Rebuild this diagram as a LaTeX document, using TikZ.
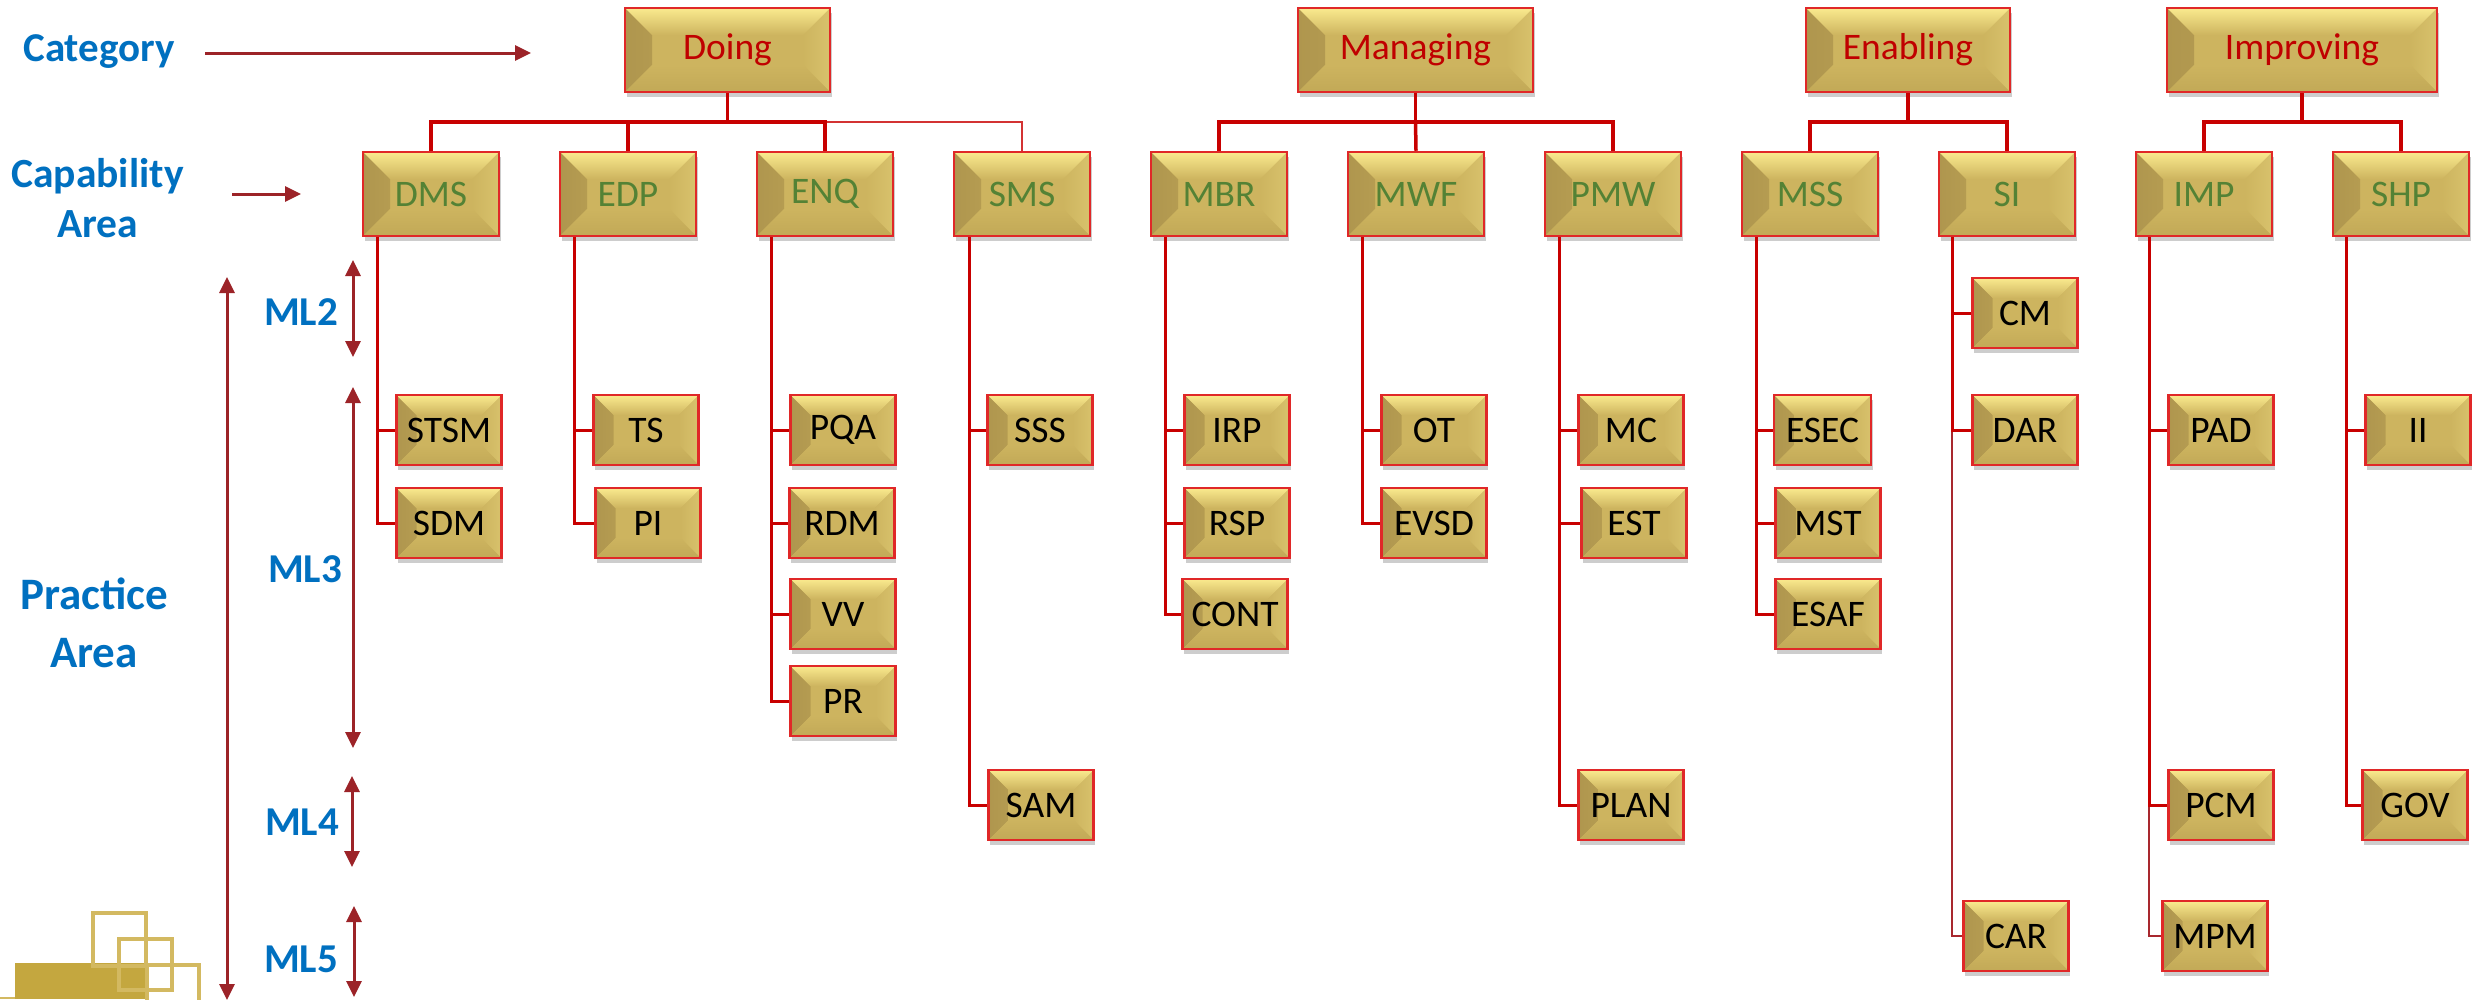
\documentclass[tikz,border=0pt]{standalone}
\usepackage{fontspec}
\setmainfont{Carlito}
\usetikzlibrary{arrows.meta,shadows,calc}
\definecolor{gbase}{HTML}{CDB45F}
\definecolor{ghi}{HTML}{FAEA8E}
\definecolor{gdark}{HTML}{AF964E}
\definecolor{gright}{HTML}{D8C26C}
\definecolor{gbot}{HTML}{C2A957}
\definecolor{bred}{HTML}{E02828}
\definecolor{lred}{HTML}{C80000}
\definecolor{mred}{HTML}{A8282E}
\definecolor{ared}{HTML}{9C2328}
\definecolor{lblue}{HTML}{0070C0}
\definecolor{cgreen}{HTML}{548235}
\definecolor{catred}{HTML}{C00000}
\definecolor{logofill}{HTML}{C4A73F}
\definecolor{logoline}{HTML}{D3B961}
\tikzset{
  bevel/.style={path picture={
    \def\pb{path picture bounding box}
    \shade[left color=gdark, right color=gbase] (\pb.south west) -- (\pb.north west) -- ($(\pb.north west)+(#1,-#1)$) -- ($(\pb.south west)+(#1,#1)$) -- cycle;
    \shade[left color=gbase, right color=gright] (\pb.south east) -- (\pb.north east) -- ($(\pb.north east)+(-#1,-#1)$) -- ($(\pb.south east)+(-#1,#1)$) -- cycle;
    \shade[top color=gbase, bottom color=gbot] (\pb.south west) -- (\pb.south east) -- ($(\pb.south east)+(-#1,#1)$) -- ($(\pb.south west)+(#1,#1)$) -- cycle;
    \shade[top color=ghi, bottom color=gbase] (\pb.north west) -- (\pb.north east) -- ($(\pb.north east)+(-#1,-#1)$) -- ($(\pb.north west)+(#1,-#1)$) -- cycle;
  }},
  boxbase/.style={draw=bred, line width=2.5pt, fill=gbase, inner sep=0pt,
    drop shadow={shadow xshift=1.5pt, shadow yshift=-5pt, opacity=0.28, fill=black!70}},
  catbox/.style={boxbase, bevel=27pt, minimum height=84pt, text=catred, font=\fontsize{37.5}{40}\selectfont},
  capbox/.style={boxbase, bevel=27pt, minimum width=136pt, minimum height=84pt, text=cgreen, font=\fontsize{37.5}{40}\selectfont},
  pbox/.style={boxbase, bevel=20pt, minimum width=105pt, minimum height=70pt, text=black, font=\fontsize{37.5}{40}\selectfont},
  conn/.style={draw=lred, line width=3.5pt},
  thinconn/.style={draw=lred!80, line width=1.6pt},
  pconn/.style={draw=lred, line width=3pt},
  mconn/.style={draw=mred, line width=2.6pt},
  aline/.style={draw=ared, line width=3pt},
  dtip/.style={{Triangle[length=16pt,width=15pt]}-{Triangle[length=16pt,width=15pt]}},
  stip/.style={-{Triangle[length=16pt,width=15pt]}},
  lbl/.style={text=lblue, inner sep=0pt},
}
\begin{document}
\begin{tikzpicture}[x=1pt,y=-1pt]
\useasboundingbox[fill=white] (0,0) rectangle (2483,999);

% logo
\fill[logofill] (15,963) rectangle (149,999);
\draw[logoline, line width=3.5pt] (93,913) rectangle (146,966);
\draw[logoline, line width=3.5pt] (119,939) rectangle (172,990);
\draw[logoline, line width=3.5pt] (147,965) rectangle (199,1012);
\draw[logoline, line width=2pt] (0,998) -- (15,998);

% left labels (base = baseline of the last line)
\node[lbl, anchor=base, font=\bfseries\fontsize{41}{50}\selectfont] (lcat) at (99,61) {Category};
\node[lbl, anchor=base, align=center, font=\bfseries\fontsize{41.5}{50}\selectfont] (lcap) at (97.5,237) {Capability\\Area};
\node[lbl, anchor=base, align=center, font=\bfseries\fontsize{45}{58}\selectfont] (lpa) at (94,667) {Practice\\Area};
\node[lbl, anchor=base, font=\bfseries\fontsize{41}{50}\selectfont] (ml2) at (301,325) {ML2};
\node[lbl, anchor=base, font=\bfseries\fontsize{41}{50}\selectfont] (ml3) at (305,582) {ML3};
\node[lbl, anchor=base, font=\bfseries\fontsize{41}{50}\selectfont] (ml4) at (302,835) {ML4};
\node[lbl, anchor=base, font=\bfseries\fontsize{41}{50}\selectfont] (ml5) at (301,972) {ML5};

% arrows
\coordinate (ca1) at (205,53); \coordinate (ca2) at (531,53);
\coordinate (cb1) at (232,194); \coordinate (cb2) at (301,194);
\coordinate (pa1) at (227,277); \coordinate (pa2) at (227,1000);
\coordinate (m2a) at (353,260); \coordinate (m2b) at (353,357);
\coordinate (m3a) at (353,387); \coordinate (m3b) at (353,748);
\coordinate (m4a) at (352,776); \coordinate (m4b) at (352,867);
\coordinate (m5a) at (354,906); \coordinate (m5b) at (354,997);
\draw[aline, stip] (ca1) -- (ca2);
\draw[aline, stip] (cb1) -- (cb2);
\draw[aline, dtip] (pa1) -- (pa2);
\draw[aline, dtip] (m2a) -- (m2b);
\draw[aline, dtip] (m3a) -- (m3b);
\draw[aline, dtip] (m4a) -- (m4b);
\draw[aline, dtip] (m5a) -- (m5b);

% category boxes
\node[catbox, minimum width=205pt] (doing) at (727.5,50) {Doing};
\node[catbox, minimum width=235pt] (managing) at (1415.5,50) {Managing};
\node[catbox, minimum width=204pt] (enabling) at (1908,50) {Enabling};
\node[catbox, minimum width=270pt] (improving) at (2302,50) {Improving};

% capability boxes
\node[capbox] (dms) at (431,194) {DMS};
\node[capbox] (edp) at (628,194) {EDP};
\node[capbox] (enq) at (825,194) {ENQ};
\node[capbox] (sms) at (1022,194) {SMS};
\node[capbox] (mbr) at (1219,194) {MBR};
\node[capbox] (mwf) at (1416,194) {MWF};
\node[capbox] (pmw) at (1613,194) {PMW};
\node[capbox] (mss) at (1810,194) {MSS};
\node[capbox] (si) at (2007,194) {SI};
\node[capbox] (imp) at (2204,194) {IMP};
\node[capbox] (shp) at (2401,194) {SHP};

% category -> capability connectors
\coordinate (bdo) at (727.5,122);
\coordinate (bma) at (1415.5,122);
\coordinate (ben) at (1908,122);
\coordinate (bim) at (2302,122);
\draw[thinconn] (bdo) -| (sms.north);
\draw[conn] (doing.south) -- (bdo);
\draw[conn] (bdo) -| (dms.north);
\draw[conn] (bdo) -| (edp.north);
\draw[conn] (bdo) -| (enq.north);
\draw[conn] (managing.south) -- (bma);
\draw[conn] (bma) -| (mbr.north);
\draw[conn] (bma) -- (mwf.north);
\draw[conn] (bma) -| (pmw.north);
\draw[conn] (enabling.south) -- (ben);
\draw[conn] (ben) -| (mss.north);
\draw[conn] (ben) -| (si.north);
\draw[conn] (improving.south) -- (bim);
\draw[conn] (bim) -| (imp.north);
\draw[conn] (bim) -| (shp.north);

% practice boxes
\node[pbox] (stsm) at (449,430) {STSM};
\node[pbox] (sdm) at (449,523) {SDM};
\node[pbox] (ts) at (646,430) {TS};
\node[pbox] (pi) at (648,523) {PI};
\node[pbox] (pqa) at (843,430) {PQA};
\node[pbox] (rdm) at (842,523) {RDM};
\node[pbox] (vv) at (843,614) {VV};
\node[pbox] (pr) at (843,701) {PR};
\node[pbox] (sss) at (1040,430) {SSS};
\node[pbox] (sam) at (1041,805) {SAM};
\node[pbox] (irp) at (1237,430) {IRP};
\node[pbox] (rsp) at (1237,523) {RSP};
\node[pbox] (cont) at (1235,614) {CONT};
\node[pbox] (ot) at (1434,430) {OT};
\node[pbox] (evsd) at (1434,523) {EVSD};
\node[pbox] (mc) at (1631,430) {MC};
\node[pbox] (est) at (1634,523) {EST};
\node[pbox] (plan) at (1631,805) {PLAN};
\node[pbox, minimum width=97pt] (esec) at (1822.5,430) {ESEC};
\node[pbox] (mst) at (1828,523) {MST};
\node[pbox] (esaf) at (1828,614) {ESAF};
\node[pbox] (cm) at (2025,313) {CM};
\node[pbox] (dar) at (2025,430) {DAR};
\node[pbox] (car) at (2016,936) {CAR};
\node[pbox] (pad) at (2221,430) {PAD};
\node[pbox] (pcm) at (2221,805) {PCM};
\node[pbox] (mpm) at (2215,936) {MPM};
\node[pbox] (ii) at (2418,430) {II};
\node[pbox] (gov) at (2415,805) {GOV};

% capability -> practice connectors
\draw[pconn] ([xshift=-54pt]dms.south) |- (stsm.west);
\draw[pconn] ([xshift=-54pt]dms.south) |- (sdm.west);
\draw[pconn] ([xshift=-54pt]edp.south) |- (ts.west);
\draw[pconn] ([xshift=-54pt]edp.south) |- (pi.west);
\draw[pconn] ([xshift=-54pt]enq.south) |- (pr.west);
\draw[pconn] ([xshift=-54pt]enq.south) |- (pqa.west);
\draw[pconn] ([xshift=-54pt]enq.south) |- (rdm.west);
\draw[pconn] ([xshift=-54pt]enq.south) |- (vv.west);
\draw[pconn] ([xshift=-53pt]sms.south) |- (sam.west);
\draw[pconn] ([xshift=-53pt]sms.south) |- (sss.west);
\draw[pconn] ([xshift=-54pt]mbr.south) |- (cont.west);
\draw[pconn] ([xshift=-54pt]mbr.south) |- (irp.west);
\draw[pconn] ([xshift=-54pt]mbr.south) |- (rsp.west);
\draw[pconn] ([xshift=-54pt]mwf.south) |- (ot.west);
\draw[pconn] ([xshift=-54pt]mwf.south) |- (evsd.west);
\draw[pconn] ([xshift=-54pt]pmw.south) |- (plan.west);
\draw[pconn] ([xshift=-54pt]pmw.south) |- (mc.west);
\draw[pconn] ([xshift=-54pt]pmw.south) |- (est.west);
\draw[pconn] ([xshift=-54pt]mss.south) |- (esaf.west);
\draw[pconn] ([xshift=-54pt]mss.south) |- (esec.west);
\draw[pconn] ([xshift=-54pt]mss.south) |- (mst.west);
\draw[mconn] ([xshift=-55pt]si.south) |- (car.west);
\draw[pconn] ([xshift=-55pt]si.south) |- (cm.west);
\draw[pconn] ([xshift=-55pt]si.south) |- (dar.west);
\draw[mconn] ([xshift=-55pt]imp.south) |- (mpm.west);
\draw[pconn] ([xshift=-55pt]imp.south) |- (pad.west);
\draw[pconn] ([xshift=-55pt]imp.south) |- (pcm.west);
\draw[pconn] ([xshift=-55pt]shp.south) |- (gov.west);
\draw[pconn] ([xshift=-55pt]shp.south) |- (ii.west);
\end{tikzpicture}
\end{document}
